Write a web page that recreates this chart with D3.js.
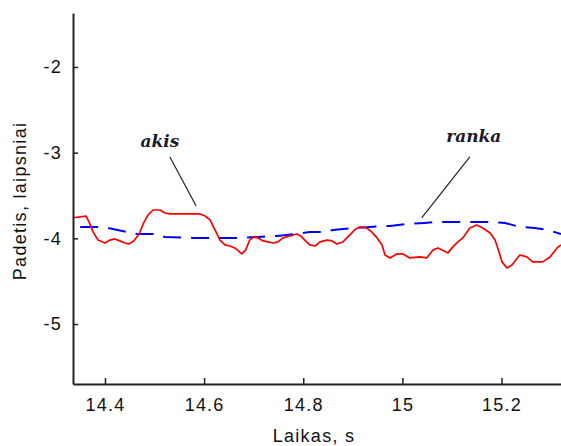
<!DOCTYPE html>
<html>
<head>
<meta charset="utf-8">
<script src="https://cdn.jsdelivr.net/npm/d3@7"></script>
<style>
html,body{margin:0;padding:0;background:#fff;}
svg{display:block;}
</style>
</head>
<body>
<svg id="chart" width="561" height="446"></svg>
<script>
// ---- data ----
const akisTime = [14.335,14.362,14.368,14.376,14.386,14.400,14.410,14.420,14.430,14.440,14.448,14.458,14.469,14.477,14.487,14.497,14.511,14.521,14.531,14.551,14.571,14.592,14.602,14.612,14.622,14.632,14.642,14.652,14.662,14.676,14.684,14.692,14.700,14.709,14.719,14.729,14.739,14.749,14.759,14.773,14.787,14.795,14.803,14.813,14.824,14.834,14.848,14.858,14.868,14.880,14.894,14.906,14.914,14.928,14.938,14.949,14.959,14.965,14.975,14.989,15.001,15.015,15.035,15.049,15.062,15.072,15.080,15.092,15.102,15.112,15.122,15.136,15.150,15.162,15.177,15.187,15.195,15.201,15.211,15.221,15.237,15.251,15.263,15.283,15.298,15.312,15.320];
const akisValue = [-3.76,-3.74,-3.81,-3.925,-4.02,-4.054,-4.02,-4.007,-4.03,-4.054,-4.065,-4.03,-3.949,-3.832,-3.727,-3.669,-3.669,-3.704,-3.715,-3.715,-3.715,-3.715,-3.739,-3.785,-3.902,-4.02,-4.077,-4.089,-4.112,-4.182,-4.135,-4.02,-3.984,-3.995,-4.03,-4.042,-4.054,-4.042,-3.995,-3.972,-3.949,-3.972,-4.02,-4.077,-4.089,-4.042,-4.02,-4.03,-4.065,-4.042,-3.96,-3.89,-3.867,-3.879,-3.925,-3.995,-4.077,-4.194,-4.229,-4.182,-4.182,-4.229,-4.217,-4.229,-4.135,-4.112,-4.135,-4.17,-4.10,-4.042,-3.995,-3.879,-3.844,-3.879,-3.937,-4.02,-4.159,-4.275,-4.346,-4.311,-4.194,-4.217,-4.275,-4.275,-4.217,-4.112,-4.077];

const rankaTime = [14.350,14.384,14.406,14.444,14.465,14.501,14.521,14.578,14.672,14.709,14.747,14.787,14.813,14.840,14.860,14.900,14.934,14.975,15.011,15.045,15.070,15.122,15.180,15.207,15.237,15.267,15.293,15.320];
const rankaValue = [-3.867,-3.867,-3.879,-3.925,-3.949,-3.949,-3.984,-3.995,-3.995,-3.984,-3.972,-3.949,-3.925,-3.925,-3.902,-3.879,-3.867,-3.855,-3.832,-3.820,-3.809,-3.809,-3.809,-3.820,-3.867,-3.879,-3.902,-3.949];

const xTicks = [14.4, 14.6, 14.8, 15, 15.2];
const xTickLabels = ["14.4", "14.6", "14.8", "15", "15.2"];
const yTicks = [-2, -3, -4, -5];
const yTickLabels = ["-2", "-3", "-4", "-5"];

const xLabel = "Laikas, s";
const yLabel = "Padetis, laipsniai";

// annotations: label, text anchor (t,v), line start (t,v), line end (t,v)
const annLabels = ["akis", "ranka"];
const annTextPos = [[14.511, -2.934], [15.144, -2.875]];
const annLineFrom = [[14.531, -3.05], [15.136, -3.05]];
const annLineTo = [[14.584, -3.622], [15.039, -3.762]];

// ---- chart ----
const svg = d3.select("#chart");
const mLeft = 73, mRight = 561, mTop = 13, mBottom = 384;

const x = d3.scaleLinear().domain([14.3355, 15.32]).range([mLeft, mRight]);
const y = d3.scaleLinear().domain([-5.70, -1.37]).range([mBottom, mTop]);

const axisColor = "#222";
const tickFont = "Liberation Sans, Arial, sans-serif";

// lines
const akis = akisTime.map((t, i) => [t, akisValue[i]]);
const ranka = rankaTime.map((t, i) => [t, rankaValue[i]]);
const line = d3.line().x(d => x(d[0])).y(d => y(d[1]));

svg.append("path").datum(ranka)
  .attr("d", line)
  .attr("fill", "none")
  .attr("stroke", "#0000ff")
  .attr("stroke-width", 2)
  .attr("stroke-dasharray", "18,10");

svg.append("path").datum(akis)
  .attr("d", line)
  .attr("fill", "none")
  .attr("stroke", "#ff0000")
  .attr("stroke-width", 1.7)
  .attr("stroke-linejoin", "round");

// axes
const xAxis = d3.axisBottom(x).tickValues(xTicks)
  .tickFormat((d, i) => xTickLabels[i]).tickSizeInner(-6).tickSizeOuter(0).tickPadding(14);
const gx = svg.append("g").attr("transform", `translate(0,${mBottom})`).call(xAxis);

const yAxis = d3.axisLeft(y).tickValues(yTicks)
  .tickFormat((d, i) => yTickLabels[i]).tickSizeInner(-5).tickSizeOuter(0).tickPadding(11);
const gy = svg.append("g").attr("transform", `translate(${mLeft},0)`).call(yAxis);

[gx, gy].forEach(g => {
  g.select(".domain").attr("stroke", axisColor).attr("stroke-width", 2);
  g.selectAll(".tick line").attr("stroke", axisColor).attr("stroke-width", 1.5);
  g.selectAll(".tick text").attr("fill", "#111")
    .style("font-family", tickFont).style("font-size", "18px")
    .style("letter-spacing", "1.2px");
});

// axis labels
svg.append("text")
  .attr("x", (mLeft + mRight) / 2 - 3).attr("y", 442)
  .attr("text-anchor", "middle")
  .style("font-family", tickFont).style("font-size", "18px")
  .style("letter-spacing", "1.3px")
  .attr("fill", "#111")
  .text(xLabel);

svg.append("text")
  .attr("transform", `translate(26,201) rotate(-90)`)
  .attr("text-anchor", "middle")
  .style("font-family", tickFont).style("font-size", "18px")
  .style("letter-spacing", "1.3px")
  .attr("fill", "#111")
  .text(yLabel);

// annotations
annLabels.forEach((lab, i) => {
  svg.append("line")
    .attr("x1", x(annLineFrom[i][0])).attr("y1", y(annLineFrom[i][1]))
    .attr("x2", x(annLineTo[i][0])).attr("y2", y(annLineTo[i][1]))
    .attr("stroke", "#222").attr("stroke-width", 1.2);
  svg.append("text")
    .attr("x", x(annTextPos[i][0])).attr("y", y(annTextPos[i][1]))
    .attr("text-anchor", "middle")
    .style("font-family", "DejaVu Serif, serif")
    .style("font-style", "italic").style("font-weight", "bold")
    .style("font-size", "17px")
    .attr("fill", "#1a1a2a")
    .text(lab);
});
</script>
</body>
</html>
